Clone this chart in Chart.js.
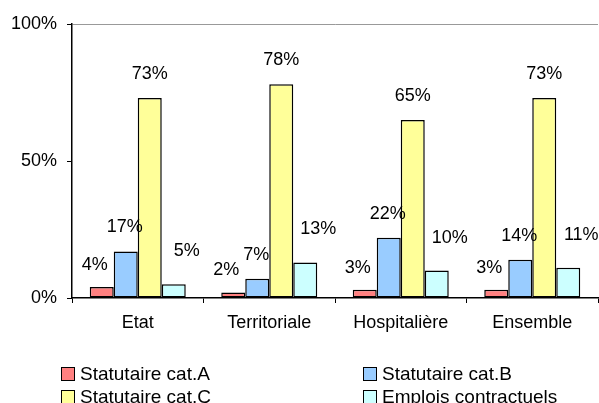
<!DOCTYPE html>
<html>
<head>
<meta charset="utf-8">
<script src="https://cdn.jsdelivr.net/npm/chart.js@4/dist/chart.umd.min.js"></script>
<style>
  body { margin: 0; background: #fff; }
  #wrap { position: relative; width: 599px; height: 403px; }
  #legend { position: absolute; left: 61px; top: 364px; width: 538px;
    font: 19px Arial, "Liberation Sans", sans-serif; color: #000; }
  #legend div { position: absolute; white-space: nowrap; line-height: 20px; }
  #legend span { display: inline-block; width: 12px; height: 12px; border: 1px solid #000;
    vertical-align: -1px; margin-right: 5px; }
</style>
</head>
<body>
<div id="wrap">
  <canvas id="barChart"></canvas>
  <div id="legend"></div>
</div>
<script>
var categories = ['Etat', 'Territoriale', 'Hospitalière', 'Ensemble'];
var catA = [4, 2, 3, 3];
var catB = [17, 7, 22, 14];
var catC = [73, 78, 65, 73];
var contractuels = [5, 13, 10, 11];
var yTicks = [0, 50, 100];

var seriesNames = ['Statutaire cat.A', 'Statutaire cat.B', 'Statutaire cat.C', 'Emplois contractuels'];
var seriesColors = ['#FF8080', '#99CCFF', '#FFFF99', '#CCFFFF'];
// label nudges per series (dx, dy above bar top)
var labelShift = [[-7, 22], [-1, 24], [0, 24], [13, 33]];

var font = 'Arial, "Liberation Sans", sans-serif';

var valueLabels = {
  id: 'valueLabels',
  afterDatasetsDraw: function(chart) {
    var c = chart.ctx;
    c.save();
    c.font = '18px ' + font;
    c.fillStyle = '#000';
    c.textAlign = 'center';
    c.textBaseline = 'middle';
    chart.data.datasets.forEach(function(ds, i) {
      chart.getDatasetMeta(i).data.forEach(function(bar, j) {
        c.fillText(ds.data[j] + '%', bar.x + labelShift[i][0], bar.y - labelShift[i][1]);
      });
    });
    c.restore();
  }
};

var ctx = document.getElementById('barChart').getContext('2d');
var myChart = new Chart(ctx, {
  type: 'bar',
  data: {
    labels: categories,
    datasets: [catA, catB, catC, contractuels].map(function(d, i) {
      return {
        label: seriesNames[i],
        data: d,
        backgroundColor: seriesColors[i],
        borderColor: '#000',
        borderWidth: 1.5,
        borderSkipped: false,
        barPercentage: 1,
        categoryPercentage: 0.73
      };
    })
  },
  options: {
    responsive: true,
    maintainAspectRatio: false,
    animation: false,
    layout: { padding: { top: 24, right: 1, left: 0, bottom: 0 } },
    plugins: {
      legend: { display: false },
      tooltip: { enabled: false }
    },
    scales: {
      x: {
        grid: {
          offset: true,
          drawOnChartArea: true,
          color: function(c) { return c.index === categories.length ? '#999' : 'rgba(0,0,0,0)'; },
          tickColor: '#000',
          tickLength: 5
        },
        border: { color: '#000', width: 1.5 },
        ticks: { color: '#000', font: { family: font, size: 18 }, padding: 9, maxRotation: 0 },
        afterFit: function(s) { s.height = 105; }
      },
      y: {
        min: 0,
        max: 100,
        afterBuildTicks: function(s) { s.ticks = yTicks.map(function(v) { return { value: v }; }); },
        grid: {
          color: function(c) { return c.tick && c.tick.value === 100 ? '#999' : 'rgba(0,0,0,0)'; },
          tickColor: '#000',
          tickLength: 5
        },
        border: { color: '#000', width: 1.5 },
        ticks: {
          color: '#000',
          font: { family: font, size: 18 },
          padding: 10,
          callback: function(v) { return v + '%'; }
        },
        afterFit: function(s) { s.width = 72; }
      }
    }
  },
  plugins: [valueLabels]
});

// two-column legend under the plot
var legendEl = document.getElementById('legend');
seriesNames.forEach(function(name, i) {
  var item = document.createElement('div');
  item.style.left = (i % 2 === 0 ? 0 : 302) + 'px';
  item.style.top = (Math.floor(i / 2) * 23) + 'px';
  item.innerHTML = '<span style="background:' + seriesColors[i] + '"></span>' + name;
  legendEl.appendChild(item);
});
</script>
</body>
</html>
